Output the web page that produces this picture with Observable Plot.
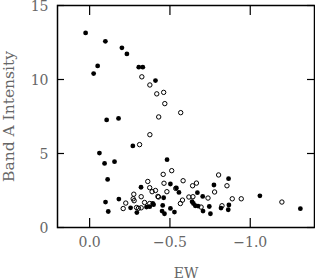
<!DOCTYPE html>
<html>
<head>
<meta charset="utf-8">
<script src="https://cdn.jsdelivr.net/npm/d3@7"></script>
<script src="https://cdn.jsdelivr.net/npm/@observablehq/plot@0.6"></script>
<style>
  html, body { margin: 0; padding: 0; background: white; }
</style>
</head>
<body>
<div id="chart"></div>
<script>
const filledEW = [0.025,-0.098,-0.201,-0.232,-0.050,-0.025,-0.306,-0.331,-0.410,-0.106,-0.180,-0.269,-0.061,-0.093,-0.155,-0.482,-0.112,-0.099,-0.116,-0.182,-0.255,-0.294,-0.320,-0.354,-0.374,-0.398,-0.503,-0.461,-0.455,-0.451,-0.466,-0.503,-0.528,-0.540,-0.556,-0.671,-0.638,-0.646,-0.658,-0.675,-0.706,-0.704,-0.752,-0.745,-0.774,-0.865,-0.818,-0.867,-0.863,-1.060,-1.312,-0.393];
const filledA = [13.15,12.58,12.14,11.73,10.92,10.40,10.83,10.83,9.93,7.27,7.37,5.51,5.03,4.33,4.45,4.58,3.25,1.72,1.08,1.92,1.33,1.01,2.72,1.38,1.41,1.54,2.94,2.01,1.49,1.11,0.93,1.29,1.04,2.67,2.37,2.35,1.74,1.62,1.47,1.45,1.11,2.10,0.93,1.42,2.87,3.30,1.31,1.52,1.20,2.14,1.27,1.62];
const openEW = [-0.325,-0.375,-0.418,-0.461,-0.468,-0.567,-0.430,-0.375,-0.311,-0.225,-0.209,-0.275,-0.271,-0.277,-0.292,-0.304,-0.321,-0.321,-0.342,-0.362,-0.374,-0.389,-0.410,-0.425,-0.374,-0.458,-0.511,-0.463,-0.481,-0.429,-0.582,-0.536,-0.565,-0.578,-0.618,-0.643,-0.641,-0.665,-0.694,-0.737,-0.778,-0.803,-0.855,-0.824,-0.888,-0.944,-1.197];
const openA = [10.18,9.63,9.03,9.13,8.37,7.76,7.47,6.27,5.60,1.65,1.28,2.25,1.94,1.81,1.35,1.30,1.33,2.08,1.69,3.11,2.69,2.42,2.50,2.10,1.62,3.59,3.84,2.99,2.42,2.06,3.16,2.64,1.62,1.85,2.06,2.08,2.82,3.00,1.38,1.99,2.40,3.55,2.82,1.47,1.94,1.94,1.72];
const xTicks = [0, -0.5, -1.0];
const yTicks = [0, 5, 10, 15];
const xLabel = "EW";
const yLabel = "Band A Intensity";

const filled = filledEW.map((x, i) => ({x, y: filledA[i]}));
const open = openEW.map((x, i) => ({x, y: openA[i]}));

const textColor = "#666";

const chart = Plot.plot({
  width: 315,
  height: 279,
  marginLeft: 57,
  marginRight: 1,
  marginTop: 5,
  marginBottom: 52,
  style: {fontFamily: "DejaVu Serif", fontSize: "14px", color: textColor, background: "white", overflow: "visible"},
  x: {domain: [0.2, -1.4], axis: null},
  y: {domain: [0, 15], axis: null},
  marks: [
    Plot.axisX(xTicks, {anchor: "bottom", tickSize: 0, tickPadding: 10, tickFormat: d3.format(".1f"), label: null, fill: textColor}),
    Plot.axisY(yTicks, {anchor: "left", tickSize: 0, tickPadding: 9, dy: 1, label: null, fill: textColor}),
    Plot.tickX(xTicks, {x: d => d, stroke: "black", strokeWidth: 1.2, insetTop: 222 - 9}),
    Plot.tickX(xTicks, {x: d => d, stroke: "black", strokeWidth: 1.2, insetBottom: 222 - 10}),
    Plot.tickY(yTicks, {y: d => d, stroke: "black", strokeWidth: 1.2, insetRight: 257 - 7}),
    Plot.tickY(yTicks, {y: d => d, stroke: "black", strokeWidth: 1.2, insetLeft: 257 - 7}),
    Plot.frame({stroke: "black", strokeWidth: 1.5}),
    Plot.dot(filled, {x: "x", y: "y", r: 2.4, fill: "black", stroke: "none"}),
    Plot.dot(open, {x: "x", y: "y", r: 2.2, fill: "none", stroke: "black", strokeWidth: 1}),
    Plot.text([xLabel], {frameAnchor: "bottom", dy: 50, lineAnchor: "bottom", fill: textColor, fontSize: 14}),
    Plot.text([yLabel], {frameAnchor: "left", dx: -44, rotate: -90, textAnchor: "middle", lineAnchor: "bottom", fill: textColor, fontSize: 15.5})
  ]
});
document.getElementById("chart").appendChild(chart);
</script>
</body>
</html>
